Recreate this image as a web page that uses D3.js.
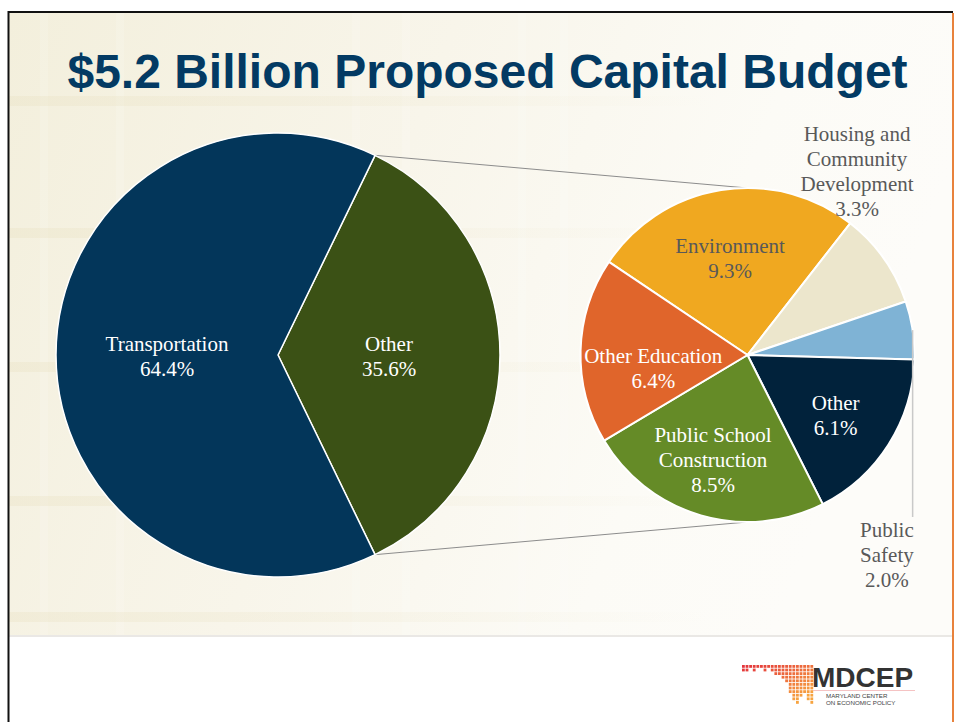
<!DOCTYPE html>
<html>
<head>
<meta charset="utf-8">
<script src="https://cdn.jsdelivr.net/npm/d3@7"></script>
<style>
  html, body { margin: 0; padding: 0; background: #ffffff; }
  svg { display: block; }
</style>
</head>
<body>
<svg id="chart" width="955" height="722"></svg>
<script>
// Capital budget split: overall pie and the breakdown of "Other"
const titleText = "$5.2 Billion Proposed Capital Budget";

const mainCategories = ["Other", "Transportation"];
const mainValues = [35.6, 64.4];
const mainColors = ["#3b5115", "#03365a"];

const detailCategories = ["Environment", "Housing and Community Development", "Public Safety",
                          "Other", "Public School Construction", "Other Education"];
const detailValues = [9.3, 3.3, 2.0, 6.1, 8.5, 6.4];
const detailColors = ["#f0a820", "#ece6cc", "#7fb3d5", "#01223b", "#658b27", "#e0652b"];

// label line breaks for each detail slice
const detailLabelLines = [
  ["Environment"],
  ["Housing and", "Community", "Development"],
  ["Public", "Safety"],
  ["Other"],
  ["Public School", "Construction"],
  ["Other Education"]
];

const svg = d3.select("#chart");
const W = 955, H = 722;

// ---------- slide background ----------
const defs = svg.append("defs");
const bg = defs.append("linearGradient").attr("id", "bgGrad")
  .attr("x1", "0").attr("y1", "0").attr("x2", "1").attr("y2", "0.25");
bg.append("stop").attr("offset", "0%").attr("stop-color", "#f3efdc");
bg.append("stop").attr("offset", "45%").attr("stop-color", "#f8f5ea");
bg.append("stop").attr("offset", "80%").attr("stop-color", "#fcfbf6");
bg.append("stop").attr("offset", "100%").attr("stop-color", "#fdfcf9");

const bandFade = defs.append("linearGradient").attr("id", "bandFade")
  .attr("x1", "0").attr("y1", "0").attr("x2", "1").attr("y2", "0");
bandFade.append("stop").attr("offset", "0%").attr("stop-color", "#e9e1c2").attr("stop-opacity", 0.35);
bandFade.append("stop").attr("offset", "60%").attr("stop-color", "#e9e1c2").attr("stop-opacity", 0.15);
bandFade.append("stop").attr("offset", "100%").attr("stop-color", "#e9e1c2").attr("stop-opacity", 0);

svg.append("rect").attr("x", 0).attr("y", 0).attr("width", W).attr("height", H).attr("fill", "#ffffff");
svg.append("rect").attr("x", 9).attr("y", 13).attr("width", 943).attr("height", 622).attr("fill", "url(#bgGrad)");

// faint plaid texture in the backdrop
const bandX = [40, 116, 352, 402, 518, 560];
const bandY = [96, 228, 362, 496, 612];
svg.append("g").selectAll("rect").data(bandX).join("rect")
  .attr("x", d => d).attr("y", 13).attr("width", 8).attr("height", 622)
  .attr("fill", "#ffffff").attr("opacity", 0.14);
svg.append("g").selectAll("rect").data(bandY).join("rect")
  .attr("x", 9).attr("y", d => d).attr("width", 700).attr("height", 10)
  .attr("fill", "url(#bandFade)");

svg.append("line").attr("x1", 9).attr("x2", 952).attr("y1", 636).attr("y2", 636)
  .attr("stroke", "#e3e1dc").attr("stroke-width", 1.5);

// slide frame
svg.append("line").attr("x1", 8).attr("x2", 953).attr("y1", 12).attr("y2", 12)
  .attr("stroke", "#111111").attr("stroke-width", 2);
svg.append("line").attr("x1", 8.5).attr("x2", 8.5).attr("y1", 11).attr("y2", H)
  .attr("stroke", "#111111").attr("stroke-width", 2);
svg.append("line").attr("x1", 953).attr("x2", 953).attr("y1", 13).attr("y2", H)
  .attr("stroke", "#e8823c").attr("stroke-width", 2);

// ---------- title ----------
svg.append("text")
  .attr("x", 487.5).attr("y", 88)
  .attr("text-anchor", "middle")
  .attr("font-family", "'Liberation Sans', Arial, sans-serif")
  .attr("font-weight", "bold")
  .attr("font-size", 48)
  .attr("fill", "#033a63")
  .text(titleText);

// ---------- pies ----------
const deg = Math.PI / 180;
const main = { cx: 278, cy: 355, r: 222 };
const detail = { cx: 747.5, cy: 355, r: 167 };

const mainTotal = d3.sum(mainValues);
const otherSpan = mainValues[0] / mainTotal * 2 * Math.PI;
const mainStart = Math.PI / 2 - otherSpan / 2; // "Other" centred at 3 o'clock

const mainPie = d3.pie().sort(null).value(d => d.value)
  .startAngle(mainStart).endAngle(mainStart + 2 * Math.PI);
const mainArcs = mainPie(mainCategories.map((c, i) => ({ name: c, value: mainValues[i], color: mainColors[i] })));

const detailStart = -56.1 * deg;
const detailPie = d3.pie().sort(null).value(d => d.value)
  .startAngle(detailStart).endAngle(detailStart + 2 * Math.PI);
const detailArcs = detailPie(detailCategories.map((c, i) => ({
  name: c, value: detailValues[i], color: detailColors[i], lines: detailLabelLines[i]
})));

const polar = (c, a, rr) => [c.cx + rr * Math.sin(a), c.cy - rr * Math.cos(a)];

// connector lines from the "Other" wedge to the breakdown pie
const otherArc = mainArcs[0];
const pTop = polar(main, otherArc.startAngle, main.r);
const pBot = polar(main, otherArc.endAngle, main.r);
const conn = svg.append("g").attr("stroke", "#8c8c8c").attr("stroke-width", 1);
conn.append("line").attr("x1", pTop[0]).attr("y1", pTop[1]).attr("x2", detail.cx).attr("y2", detail.cy - detail.r);
conn.append("line").attr("x1", pBot[0]).attr("y1", pBot[1]).attr("x2", detail.cx).attr("y2", detail.cy + detail.r);

const mainArcGen = d3.arc().innerRadius(0).outerRadius(main.r);
svg.append("g").attr("transform", `translate(${main.cx},${main.cy})`)
  .selectAll("path").data(mainArcs).join("path")
  .attr("d", mainArcGen)
  .attr("fill", d => d.data.color)
  .attr("stroke", "#ffffff").attr("stroke-width", 1.5).attr("stroke-linejoin", "round");

const detailArcGen = d3.arc().innerRadius(0).outerRadius(detail.r);
svg.append("g").attr("transform", `translate(${detail.cx},${detail.cy})`)
  .selectAll("path").data(detailArcs).join("path")
  .attr("d", detailArcGen)
  .attr("fill", d => d.data.color)
  .attr("stroke", "#ffffff").attr("stroke-width", 2).attr("stroke-linejoin", "round");

// ---------- labels ----------
const fmt = v => v.toFixed(1) + "%";
const lineH = 25;
function drawLabel(x, yMid, lines, color) {
  const n = lines.length;
  const t = svg.append("text")
    .attr("text-anchor", "middle")
    .attr("font-family", "'Liberation Serif', 'Times New Roman', serif")
    .attr("font-size", 21)
    .attr("fill", color);
  lines.forEach((s, i) => {
    t.append("tspan").attr("x", x).attr("y", yMid - (n - 1) * lineH / 2 + 7 + i * lineH).text(s);
  });
}

mainArcs.forEach(a => {
  const mid = (a.startAngle + a.endAngle) / 2;
  const [x, y] = polar(main, mid, main.r * 0.5);
  drawLabel(x, y + 1.5, [a.data.name, fmt(a.data.value)], "#ffffff");
});

// inside labels: radius fraction and angular nudge; outside labels: offset in radius units
const detailLabelPlacement = {
  "Environment": { frac: 0.59, nudge: -1.1, color: "#595959" },
  "Other": { frac: 0.64, nudge: 2, color: "#ffffff" },
  "Public School Construction": { frac: 0.66, nudge: 2, color: "#ffffff" },
  "Other Education": { frac: 0.57, nudge: -9.7, color: "#ffffff" },
  "Housing and Community Development": { ox: 0.656, oy: -1.096, color: "#595959" },
  "Public Safety": { ox: 0.835, oy: 1.198, color: "#595959" }
};

detailArcs.forEach(a => {
  const p = detailLabelPlacement[a.data.name];
  const lines = a.data.lines.concat([fmt(a.data.value)]);
  let x, y;
  if (p.frac !== undefined) {
    const mid = (a.startAngle + a.endAngle) / 2 + p.nudge * deg;
    [x, y] = polar(detail, mid, detail.r * p.frac);
  } else {
    x = detail.cx + p.ox * detail.r;
    y = detail.cy + p.oy * detail.r;
  }
  drawLabel(x, y, lines, p.color);
});

// leader line for the thin Public Safety wedge
const ps = detailArcs[2];
const psEdge = polar(detail, (ps.startAngle + ps.endAngle) / 2, detail.r);
svg.append("line")
  .attr("x1", psEdge[0]).attr("y1", psEdge[1])
  .attr("x2", psEdge[0]).attr("y2", detail.cy + detail.r * 0.97)
  .attr("stroke", "#c9c9c9").attr("stroke-width", 1.5);

// ---------- MDCEP logo ----------
const logo = svg.append("g").attr("transform", "translate(742,665)");
const mapRows = [
  "11111111111111111111",
  "11010010111111111111",
  "00000000011111111111",
  "00000000000111111111",
  "00000000000011111111",
  "00000000000001111111",
  "00000000000001111111",
  "00000000000001111111",
  "00000000000000111011",
  "00000000000000110011",
  "00000000000000010001"
];
const pitch = 3.6;
const dotColor = d3.scaleLinear().domain([0, 1]).range(["#e3343b", "#f7a440"]).interpolate(d3.interpolateRgb);
const dots = [];
mapRows.forEach((row, r) => row.split("").forEach((c, k) => {
  if (c === "1") dots.push({ r, k });
}));
logo.selectAll("rect").data(dots).join("rect")
  .attr("x", d => d.k * pitch).attr("y", d => d.r * pitch)
  .attr("width", 2.8).attr("height", 2.8)
  .attr("fill", d => dotColor(Math.min(1, (d.k / 19) * 0.55 + (d.r / 10) * 0.6)));

svg.append("text").attr("x", 812).attr("y", 687)
  .attr("font-family", "'Liberation Sans', Arial, sans-serif").attr("font-weight", "bold")
  .attr("font-size", 28).attr("fill", "#333333").text("MDCEP");
svg.append("line").attr("x1", 813).attr("x2", 915).attr("y1", 690.5).attr("y2", 690.5)
  .attr("stroke", "#f2b4b4").attr("stroke-width", 0.8);
svg.append("text").attr("x", 826).attr("y", 697.5)
  .attr("font-family", "'Liberation Sans', Arial, sans-serif")
  .attr("font-size", 6.2).attr("fill", "#444444").text("MARYLAND CENTER");
svg.append("text").attr("x", 826).attr("y", 704.5)
  .attr("font-family", "'Liberation Sans', Arial, sans-serif")
  .attr("font-size", 6.2).attr("fill", "#444444").text("ON ECONOMIC POLICY");
</script>
</body>
</html>
